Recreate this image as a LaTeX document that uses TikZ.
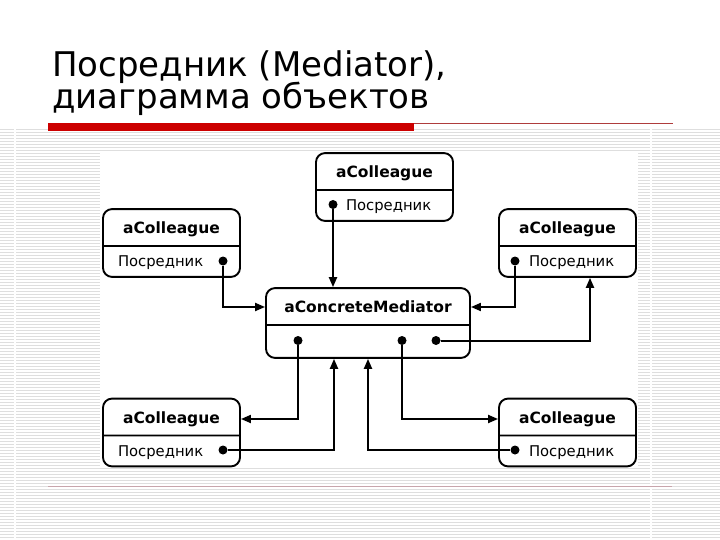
\documentclass[tikz,border=0pt]{standalone}
\usepackage{fontspec}
\setmainfont{DejaVu Sans}
\usetikzlibrary{shapes.multipart,arrows.meta}

\definecolor{titlered}{RGB}{204,0,0}
\definecolor{rulered}{RGB}{175,60,60}
\definecolor{footrule}{RGB}{200,165,172}
\definecolor{stripegray}{RGB}{222,222,222}

\newcommand{\hdr}[1]{\rule[-11.5pt]{0pt}{35pt}\fontsize{15.5}{17}\selectfont\bfseries #1}
\newcommand{\attr}[2]{\rule[-9pt]{0pt}{29pt}\hspace*{#1}#2}

\tikzset{
  obj/.style={rectangle split, rectangle split parts=2,
    rectangle split part align={center,left}, draw, line width=1.9pt,
    rounded corners=9pt, minimum width=137pt, inner xsep=0pt, inner ysep=0pt,
    font=\fontsize{14.8}{17}\selectfont},
  med/.style={obj, minimum width=204pt},
  dot/.style={circle, fill, inner sep=0pt, minimum size=9pt},
  link/.style={line width=2pt, -{Triangle[length=10pt,width=8pt]}},
  title/.style={font=\fontsize{34}{40}\selectfont, inner sep=0pt}
}

\begin{document}
\begin{tikzpicture}[x=1pt,y=-1pt]
\useasboundingbox (0,0) rectangle (720,540);
\foreach \y in {129.5,132.5,...,540}
  \draw[stripegray, line width=1.4pt] (0,\y) -- (720,\y);
\fill[white] (14,128) rectangle (16,540);
\fill[white] (650,128) rectangle (652,540);
\fill[white] (100,152) rectangle (638,467);
\draw[footrule, line width=1pt] (48,486) -- (672,486);

\node[title, anchor=base west] (t1) at (52,77) {Посредник (Mediator),};
\node[title, anchor=base west] (t2) at (52,109) {диаграмма объектов};
\fill[titlered] (48,123) rectangle (414,131);
\draw[rulered, line width=1pt] (414,123.5) -- (673,123.5);

\node[obj] (top) at (384.5,187) {\hdr{aColleague}\nodepart{two}\attr{30pt}{Посредник}};
\node[obj] (lu) at (171.5,243) {\hdr{aColleague}\nodepart{two}\attr{15pt}{Посредник}};
\node[obj] (ru) at (567.5,243) {\hdr{aColleague}\nodepart{two}\attr{30pt}{Посредник}};
\node[obj] (ll) at (171.5,432.5) {\hdr{aColleague}\nodepart{two}\attr{15pt}{Посредник}};
\node[obj] (lr) at (567.5,432.5) {\hdr{aColleague}\nodepart{two}\attr{30pt}{Посредник}};
\node[med] (cm) at (368,323) {\hdr{aConcreteMediator}\nodepart{two}\rule{0pt}{31pt}};

\node[dot] (top-d) at (333,204.5) {};
\node[dot] (lu-d) at (223,261) {};
\node[dot] (ru-d) at (515,261) {};
\node[dot] (ll-d) at (223,450) {};
\node[dot] (lr-d) at (515,450) {};
\node[dot] (cm-a) at (298,340.5) {};
\node[dot] (cm-b) at (402,340.5) {};
\node[dot] (cm-c) at (436,340.5) {};

\draw[link] (top-d) -- (top-d |- cm.north);
\draw[link] (lu-d) |- ([yshift=16pt]cm.west);
\draw[link] (ru-d) |- ([yshift=16pt]cm.east);
\draw[link] (cm-c) -| ([xshift=22.5pt]ru.south);
\draw[link] (cm-a) |- ([yshift=13.5pt]ll.east);
\draw[link] (ll-d) -| ([xshift=-34pt]cm.south);
\draw[link] (cm-b) |- ([yshift=13.5pt]lr.west);
\draw[link] (lr-d) -| (cm.south);
\end{tikzpicture}
\end{document}
